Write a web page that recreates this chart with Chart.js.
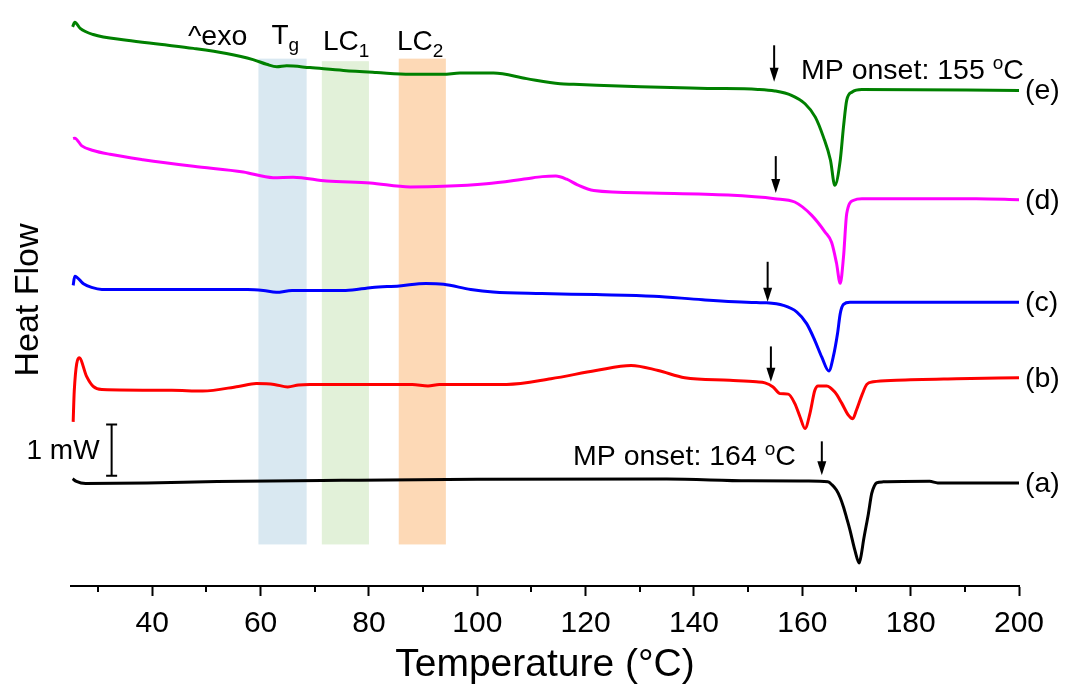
<!DOCTYPE html>
<html>
<head>
<meta charset="utf-8">
<title>DSC heat flow</title>
<script src="https://cdn.jsdelivr.net/npm/chart.js@4.4.1/dist/chart.umd.min.js"></script>
<style>
  html, body { margin: 0; padding: 0; background: #fff; }
  #wrap { width: 1066px; height: 686px; position: relative; }
</style>
</head>
<body>
<div id="wrap"><canvas id="dsc"></canvas></div>
<script>
// temperature (°C) / heat flow (mW, curves stacked with offsets)
const tempA = [25.3, 26.0, 27.7, 39.0, 52.0, 75.0, 100.0, 135.0, 150.0, 161.0, 164.7, 165.5, 166.3, 167.0, 167.6, 168.2, 168.8, 169.7, 170.5, 170.9, 171.3, 172.2, 172.8, 173.3, 173.7, 174.9, 183.5, 185.0, 200];
const flowA = [2.09, 2.04, 2.00, 2.01, 2.035, 2.06, 2.08, 2.085, 2.05, 2.045, 2.03, 1.97, 1.87, 1.72, 1.54, 1.32, 1.09, 0.70, 0.45, 0.62, 0.89, 1.41, 1.80, 1.95, 2.01, 2.03, 2.04, 2.01, 2.01];

const tempB = [25.4, 25.6, 26.5, 27.9, 29.1, 30.7, 43.6, 49.3, 55.9, 59.2, 62.5, 65.0, 67.0, 69.1, 88.0, 90.9, 93.0, 105.4, 113.6, 121.9, 128.4, 133.4, 138.3, 146.6, 151.5, 153.1, 154.6, 155.9, 157.4, 158.6, 159.6, 160.5, 161.4, 162.3, 162.9, 164.5, 166.0, 167.3, 168.5, 169.3, 170.0, 171.0, 171.9, 173.1, 177.4, 188.5, 200];
const flowB = [3.20, 3.80, 4.45, 4.08, 3.89, 3.83, 3.815, 3.80, 3.89, 3.945, 3.93, 3.88, 3.92, 3.93, 3.93, 3.90, 3.93, 3.93, 4.04, 4.20, 4.30, 4.20, 4.06, 4.01, 3.98, 3.96, 3.88, 3.75, 3.74, 3.56, 3.29, 3.07, 3.36, 3.81, 3.90, 3.90, 3.78, 3.56, 3.33, 3.26, 3.43, 3.72, 3.93, 3.98, 4.01, 4.04, 4.06];

const tempC = [25.4, 25.7, 27.3, 28.8, 30.7, 57.6, 60.5, 62.9, 65.8, 75.7, 80.6, 85.6, 90.5, 93.8, 98.8, 102.9, 111.9, 121.9, 132.6, 141.6, 151.5, 153.4, 156.5, 159.0, 160.8, 162.3, 163.6, 164.9, 165.7, 166.5, 167.0, 167.6, 168.8, 200];
const flowC = [5.86, 6.04, 5.89, 5.82, 5.78, 5.78, 5.76, 5.725, 5.76, 5.76, 5.82, 5.85, 5.895, 5.88, 5.78, 5.73, 5.70, 5.68, 5.65, 5.58, 5.525, 5.52, 5.47, 5.34, 5.115, 4.79, 4.46, 4.19, 4.46, 4.92, 5.31, 5.49, 5.53, 5.53];

const tempD = [25.4, 25.7, 27.0, 29.1, 32.2, 38.3, 47.6, 56.8, 62.3, 66.0, 72.2, 80.2, 87.6, 93.7, 101.7, 109.1, 112.0, 114.5, 116.5, 118.5, 121.5, 132.0, 146.3, 154.9, 158.6, 161.7, 164.2, 165.4, 166.3, 167.0, 167.6, 168.2, 169.5, 171.0, 192.1, 200];
const flowD = [8.72, 8.73, 8.58, 8.49, 8.415, 8.31, 8.18, 8.07, 7.96, 7.97, 7.895, 7.855, 7.78, 7.79, 7.84, 7.94, 7.98, 7.99, 7.93, 7.82, 7.71, 7.66, 7.62, 7.55, 7.485, 7.23, 6.90, 6.70, 6.30, 5.90, 6.41, 7.26, 7.52, 7.55, 7.55, 7.53];

const tempE = [25.3, 25.7, 26.7, 29.1, 35.3, 41.4, 47.6, 53.7, 58.6, 61.1, 63.0, 64.8, 69.1, 75.3, 81.4, 87.6, 93.7, 96.8, 103.0, 109.1, 115.3, 117.8, 130.2, 142.5, 151.8, 154.9, 158.0, 160.5, 162.4, 163.9, 165.2, 166.0, 167.0, 167.6, 168.2, 169.2, 171.0, 200];
const flowE = [10.90, 10.99, 10.87, 10.75, 10.64, 10.56, 10.48, 10.38, 10.26, 10.17, 10.12, 10.14, 10.105, 10.05, 10.01, 9.975, 9.975, 10.00, 10.00, 9.89, 9.79, 9.78, 9.73, 9.70, 9.68, 9.65, 9.565, 9.40, 9.14, 8.75, 8.30, 7.81, 8.30, 8.95, 9.47, 9.63, 9.68, 9.66];

const seriesLabels = ['(a)', '(b)', '(c)', '(d)', '(e)'];
const seriesColors = ['#000000', '#ff0000', '#0000ff', '#ff00ff', '#008000'];

const xTicks = [40, 60, 80, 100, 120, 140, 160, 180, 200];
const xMinorTicks = [30, 50, 70, 90, 110, 130, 150, 170, 190];

// shaded regions Tg, LC1, LC2
const bandStart = [59.6, 71.3, 85.5];
const bandEnd = [68.5, 80.0, 94.2];
const bandTop = [10.28, 10.23, 10.28];
const bandBottom = [0.81, 0.81, 0.81];
const bandColors = ['#d9e8f1', '#e2f1d9', '#fdd9b6'];

// melting onset arrows, one per curve (a..e)
const arrowTemp = [163.6, 154.2, 153.6, 155.1, 154.8];
const arrowTop = [2.82, 4.67, 6.32, 8.38, 10.54];
const arrowTip = [2.16, 3.98, 5.54, 7.66, 9.83];

// 1 mW scale bar
const barTemp = 32.5;
const barFrom = 2.15;
const barTo = 3.15;

const FONT = '"Liberation Sans", Arial, sans-serif';

function pts(t, f) {
  return t.map((v, i) => ({ x: v, y: f[i] }));
}

// draws text made of pieces (sub / superscripts)
function drawRuns(ctx, x, y, runs) {
  runs.forEach(r => {
    ctx.font = r.size + 'px ' + FONT;
    ctx.fillText(r.text, x, y + (r.dy || 0));
    x += ctx.measureText(r.text).width;
  });
}

const decorations = {
  id: 'decorations',
  beforeDatasetsDraw(chart) {
    const { ctx, scales: { x, y } } = chart;
    ctx.save();
    bandStart.forEach((s, i) => {
      const x0 = x.getPixelForValue(s);
      const x1 = x.getPixelForValue(bandEnd[i]);
      const y0 = y.getPixelForValue(bandTop[i]);
      const y1 = y.getPixelForValue(bandBottom[i]);
      ctx.fillStyle = bandColors[i];
      ctx.fillRect(x0, y0, x1 - x0, y1 - y0);
    });
    ctx.restore();
  },
  afterDatasetsDraw(chart) {
    const { ctx, chartArea, scales: { x, y } } = chart;
    ctx.save();

    // minor ticks
    ctx.strokeStyle = '#000';
    ctx.lineWidth = 2;
    xMinorTicks.forEach(v => {
      const px = Math.round(x.getPixelForValue(v));
      ctx.beginPath();
      ctx.moveTo(px, chartArea.bottom);
      ctx.lineTo(px, chartArea.bottom + 6);
      ctx.stroke();
    });

    // arrows
    ctx.fillStyle = '#000';
    arrowTemp.forEach((t, i) => {
      const px = x.getPixelForValue(t);
      const top = y.getPixelForValue(arrowTop[i]);
      const tip = y.getPixelForValue(arrowTip[i]);
      ctx.lineWidth = 2;
      ctx.beginPath();
      ctx.moveTo(px, top);
      ctx.lineTo(px, tip - 10);
      ctx.stroke();
      ctx.beginPath();
      ctx.moveTo(px - 4.5, tip - 14);
      ctx.lineTo(px + 4.5, tip - 14);
      ctx.lineTo(px, tip);
      ctx.closePath();
      ctx.fill();
    });

    // scale bar
    const bx = x.getPixelForValue(barTemp);
    const by0 = y.getPixelForValue(barFrom);
    const by1 = y.getPixelForValue(barTo);
    ctx.lineWidth = 2;
    ctx.beginPath();
    ctx.moveTo(bx, by0); ctx.lineTo(bx, by1);
    ctx.moveTo(bx - 5.5, by0); ctx.lineTo(bx + 5.5, by0);
    ctx.moveTo(bx - 5.5, by1); ctx.lineTo(bx + 5.5, by1);
    ctx.stroke();

    // texts
    ctx.fillStyle = '#000';
    ctx.textBaseline = 'alphabetic';
    ctx.textAlign = 'left';
    drawRuns(ctx, 26.5, 459, [{ text: '1 mW', size: 28 }]);
    drawRuns(ctx, 188, 45, [{ text: '^exo', size: 28.5 }]);
    drawRuns(ctx, 271.5, 44, [{ text: 'T', size: 28 }, { text: 'g', size: 19, dy: 7 }]);
    drawRuns(ctx, 323, 50, [{ text: 'LC', size: 28 }, { text: '1', size: 19, dy: 7 }]);
    drawRuns(ctx, 397, 50, [{ text: 'LC', size: 28 }, { text: '2', size: 19, dy: 7 }]);
    drawRuns(ctx, 801, 79, [{ text: 'MP onset: 155 ', size: 28.5 }, { text: 'o', size: 19, dy: -10 }, { text: 'C', size: 28.5 }]);
    drawRuns(ctx, 573, 465, [{ text: 'MP onset: 164 ', size: 28.5 }, { text: 'o', size: 19, dy: -10 }, { text: 'C', size: 28.5 }]);

    // curve labels at the right end
    ctx.textBaseline = 'middle';
    ctx.font = '28.5px ' + FONT;
    chart.data.datasets.forEach((ds, i) => {
      const last = ds.data[ds.data.length - 1];
      ctx.fillText(seriesLabels[i], chartArea.right + 6, y.getPixelForValue(last.y) + 1);
    });
    ctx.restore();
  }
};

const datasets = [
  [tempA, flowA], [tempB, flowB], [tempC, flowC], [tempD, flowD], [tempE, flowE]
].map(([t, f], i) => ({
  label: seriesLabels[i],
  data: pts(t, f),
  borderColor: seriesColors[i],
  borderWidth: 3,
  pointRadius: 0,
  fill: false,
  cubicInterpolationMode: 'monotone'
}));

new Chart(document.getElementById('dsc'), {
  type: 'line',
  data: { datasets },
  options: {
    responsive: true,
    maintainAspectRatio: false,
    animation: false,
    layout: { padding: { left: 0, right: 47, top: 14, bottom: 0 } },
    plugins: { legend: { display: false }, tooltip: { enabled: false } },
    scales: {
      x: {
        type: 'linear',
        min: 25,
        max: 200,
        afterBuildTicks: scale => { scale.ticks = xTicks.map(v => ({ value: v })); },
        afterFit: scale => { scale.height = 100; },
        ticks: { color: '#000', font: { family: FONT, size: 30 }, padding: 10, maxRotation: 0 },
        grid: { display: true, drawOnChartArea: false, drawTicks: true, tickLength: 10, tickWidth: 2, color: '#000' },
        border: { display: true, color: '#000', width: 2 },
        title: {
          display: true,
          text: 'Temperature (°C)',
          color: '#000',
          font: { family: FONT, size: 39, lineHeight: 1 },
          padding: { top: 0, bottom: 1 }
        }
      },
      y: {
        min: 0,
        max: 11.15,
        afterFit: scale => { scale.width = 71; },
        ticks: { display: false },
        grid: { display: false },
        border: { display: false },
        title: {
          display: true,
          text: 'Heat Flow',
          color: '#000',
          font: { family: FONT, size: 34, lineHeight: 1 },
          padding: { top: 12, bottom: 0 }
        }
      }
    }
  },
  plugins: [decorations]
});
</script>
</body>
</html>
